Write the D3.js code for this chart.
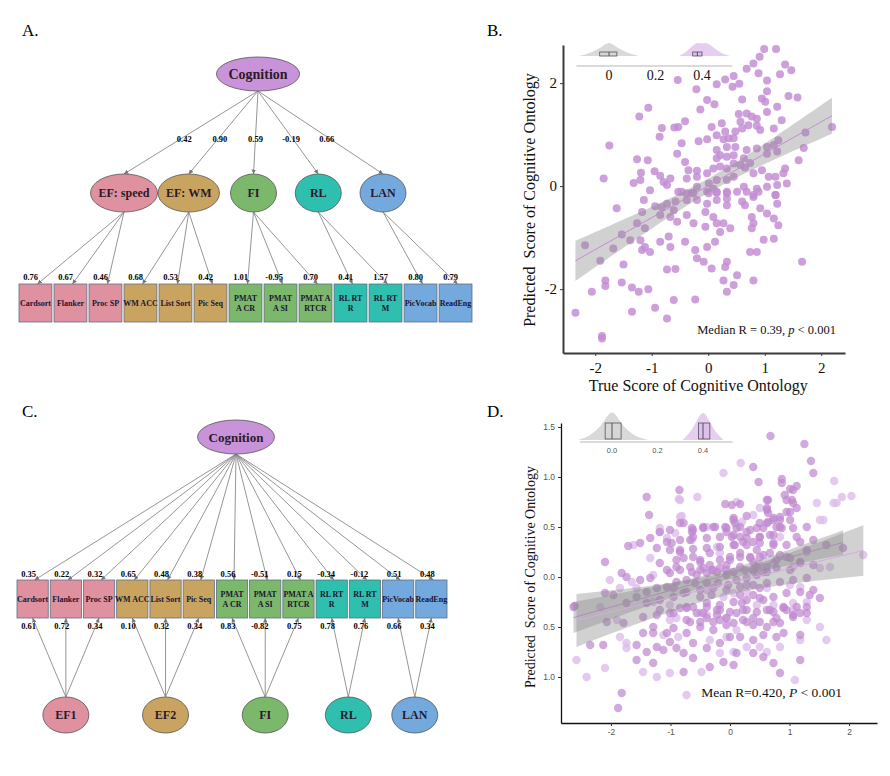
<!DOCTYPE html>
<html>
<head>
<meta charset="utf-8">
<script src="https://cdn.jsdelivr.net/npm/d3@7"></script>
<style>
body { margin: 0; background: #fff; }
svg { display: block; }
</style>
</head>
<body>
<svg id="fig" width="890" height="776"></svg>
<script>
// ---------- SEM diagrams (A, C) ----------
const indicators = ["Cardsort","Flanker","Proc SP","WM ACC","List Sort","Pic Seq","PMAT A CR","PMAT A SI","PMAT A RTCR","RL RT R","RL RT M","PicVocab","ReadEng"];
const indicatorLines = [["Cardsort"],["Flanker"],["Proc SP"],["WM ACC"],["List Sort"],["Pic Seq"],["PMAT","A CR"],["PMAT","A SI"],["PMAT A","RTCR"],["RL RT","R"],["RL RT","M"],["PicVocab"],["ReadEng"]];
const indicatorGroup = [0,0,0,1,1,1,2,2,2,3,3,4,4];
const factorsA = ["EF: speed","EF: WM","FI","RL","LAN"];
const factorsC = ["EF1","EF2","FI","RL","LAN"];
const factorColors = ["#e0919f","#c9a461","#7cb86c","#2fbfae","#73a9dc"];
const cognitionColor = "#c993d9";
const loadCogA = ["0.42","0.90","0.59","-0.19","0.66"];
const loadIndA = ["0.76","0.67","0.46","0.68","0.53","0.42","1.01","-0.95","0.70","0.41","1.57","0.80","0.79"];
const loadCogC = ["0.35","0.22","0.32","0.65","0.48","0.38","0.56","-0.51","0.15","-0.34","-0.12","0.51","0.48"];
const loadIndC = ["0.61","0.72","0.34","0.10","0.32","0.34","0.83","-0.82","0.75","0.78","0.76","0.66","0.34"];

// ---------- panel B scatter ----------
const bTrue = [0.99,1.20,0.91,0.80,0.68,1.36,1.47,1.27,0.89,0.45,
 0.30,0.15,0.43,0.55,1.04,-0.54,-0.21,1.04,0.60,0.95,
 1.01,1.42,1.58,-0.02,0.11,-0.14,-1.06,-1.22,-0.41,-0.53,
 -0.60,-0.82,-0.86,0.06,0.24,0.54,0.68,0.77,0.86,0.57,
 0.71,0.86,1.04,1.22,1.30,1.16,0.30,0.15,0.27,0.36,
 0.45,0.48,0.60,0.92,-0.47,-0.17,-0.02,-1.75,-0.55,-0.41,
 0.15,0.33,0.48,0.21,0.15,0.33,0.45,0.63,0.68,0.86,
 1.04,1.16,1.24,1.04,1.22,1.72,2.19,1.69,1.60,-1.26,
 -1.07,-1.85,-1.32,-1.20,-1.19,-0.95,-0.85,-0.67,-0.79,-0.73,
 -0.35,-0.20,-0.38,-0.20,-0.02,0.09,0.21,0.33,0.45,0.57,
 0.65,0.74,0.80,0.95,1.07,1.19,1.36,1.33,1.22,1.39,
 0.45,0.33,0.15,0.01,-0.20,0.09,0.63,0.86,1.04,-0.53,
 -0.38,-0.26,-0.02,0.15,0.33,1.19,0.80,
 -1.03,-0.47,-0.29,0.01,0.15,0.33,0.51,0.68,0.89,1.19,
 -1.62,-1.14,-0.94,-0.82,-0.73,-0.58,-0.38,-0.20,-0.02,0.15,
 0.33,0.33,0.60,0.65,0.80,0.92,1.04,1.16,1.22,-1.17,
 -0.85,-0.67,-0.61,-0.55,-0.38,-0.26,-0.05,0.09,0.15,0.27,
 0.39,-0.05,0.21,0.77,0.80,0.77,1.24,1.16,0.98,-2.18,
 -1.53,-1.38,-1.68,-1.26,-1.12,-1.20,-1.12,-1.17,-1.03,-0.85,
 -0.70,-0.67,-0.41,-0.23,-0.20,-0.08,-0.02,0.12,0.33,0.30,
 0.06,0.51,0.27,0.45,0.33,0.80,0.74,0.86,1.66,-1.91,
 -1.50,-0.73,-0.58,-1.82,-1.82,-1.53,-1.35,-1.23,-1.06,-2.06,
 -2.35,-1.35,-0.94,-0.73,-0.61,-0.23,-1.88,-1.88];
const bPred = [2.66,2.66,2.51,2.38,2.28,2.36,2.25,2.17,2.19,2.14,
 2.07,1.98,1.93,1.99,2.05,2.06,1.88,1.84,1.68,1.70,
 1.64,1.75,1.72,1.67,1.59,1.49,1.52,1.35,1.26,1.15,
 1.14,1.13,0.96,1.15,1.22,1.40,1.41,1.35,1.31,1.25,
 1.18,1.17,1.44,1.54,1.28,1.12,1.06,0.99,0.91,0.93,
 0.93,1.06,1.12,1.09,0.83,0.87,0.91,0.79,0.63,0.47,
 0.70,0.76,0.76,0.60,0.54,0.57,0.60,0.54,0.70,0.73,
 0.76,0.80,0.89,0.63,0.67,1.04,1.15,0.74,0.50,0.52,
 0.50,0.15,0.06,0.12,0.26,0.29,0.20,0.15,0.08,0.02,
 0.31,0.30,0.15,0.18,0.25,0.34,0.38,0.34,0.44,0.41,
 0.36,0.45,0.25,0.31,0.18,0.18,0.34,0.25,0.02,0.05,
 0.18,0.12,0.12,0.05,-0.01,-0.05,-0.01,-0.05,-0.01,-0.11,
 -0.14,-0.13,-0.11,-0.13,-0.14,-0.17,-0.17,
 -0.08,-0.11,-0.14,-0.14,-0.11,-0.11,-0.11,-0.11,-0.11,-0.17,
 -0.43,-0.27,-0.39,-0.41,-0.34,-0.30,-0.27,-0.27,-0.34,-0.27,
 -0.24,-0.37,-0.30,-0.37,-0.21,-0.43,-0.53,-0.63,-0.34,-0.50,
 -0.56,-0.60,-0.47,-0.69,-0.56,-0.72,-0.50,-0.60,-0.72,-0.72,
 -0.82,-0.79,-0.89,-0.60,-0.72,-0.82,-0.76,-1.02,-1.04,-1.15,
 -0.94,-1.05,-1.21,-0.72,-0.82,-1.05,-1.18,-1.24,-1.28,-1.08,
 -0.98,-1.18,-1.08,-1.24,-1.40,-1.47,-1.18,-1.08,-1.47,-1.57,
 -1.60,-1.73,-1.83,-1.92,-2.05,-1.83,-1.28,-1.28,-1.47,-1.45,
 -1.52,-1.62,-1.61,-1.83,-1.94,-1.87,-1.97,-2.05,-2.00,-2.05,
 -2.46,-2.44,-2.36,-2.57,-2.21,-2.20,-2.91,-2.96];
const bXTicks = [-2,-1,0,1,2];
const bYTicks = [-2,0,2];

// ---------- panel D scatter (two series) ----------
const dTrueDark = [0.68,1.25,1.36,1.40,0.39,0.48,0.87,0.87,1.12,1.01,
 0.92,1.04,1.06,0.62,-1.40,-0.85,-1.36,-0.08,0.03,0.17,
 0.62,0.64,1.12,1.01,0.84,1.01,0.73,0.28,0.06,0.08,
 -0.08,-0.84,-0.64,-0.45,-0.28,0.50,0.64,0.78,0.45,
 -1.18,-1.01,-0.62,-0.45,-0.25,-0.06,0.17,0.34,0.56,0.84,
 1.06,0.73,0.50,0.28,0.06,-0.17,-0.39,-0.62,-0.84,-1.06,
 -1.34,-1.71,-1.51,-1.23,-1.01,-0.84,-0.62,-0.39,-0.17,0.06,
 0.28,0.50,0.73,0.95,1.18,1.40,1.62,1.90,-2.10,-1.82,
 -1.74,-1.51,-1.34,-1.18,-1.06,-0.90,-0.78,-0.62,-0.50,-0.34,
 -0.17,0.00,0.17,0.34,0.50,0.67,0.84,1.01,1.18,1.40,
 0.78,0.62,0.45,0.28,0.11,-0.06,-0.22,-0.39,-0.56,-0.73,
 -0.90,-1.06,-1.23,-1.40,-1.57,-2.10,-1.96,-2.61,-1.74,-1.40,
 -1.18,-0.95,-0.73,-0.50,-0.28,-0.06,0.17,0.39,0.62,0.84,
 1.06,1.29,1.40,1.18,0.95,0.73,0.50,0.28,0.06,-0.17,
 -0.39,-0.62,-0.84,-1.01,-1.23,-1.46,-0.45,-0.22,0.00,0.22,
 0.45,0.67,0.90,1.12,1.34,1.51,1.29,1.06,0.22,0.50,
 0.78,-0.73,-0.50,-0.28,
 -2.63,-2.35,-2.13,-1.57,-1.40,-1.23,-1.01,-0.90,-0.78,-0.62,
 -0.39,-0.17,0.00,0.17,0.39,0.56,0.78,0.90,1.18,-0.73,
 -1.06,-1.29,-1.46,-2.07,-1.79,-1.29,-0.95,-0.50,-0.28,-0.06,
 0.39,0.62,0.84,1.06,1.29,-1.57,-1.29,-0.78,-0.34,-0.11,
 0.11,0.39,0.56,0.73,0.84,1.18,0.06,-1.82,-1.88,-1.12,
 -0.62,-0.95,-1.18,-0.73,-0.39,-0.17,0.11,0.28,0.62,0.90,
 -0.06,0.39,-0.39,-0.67,
 -0.06,0.06,0.11,0.03,0.17,0.28,0.22,0.08,0.39,0.50,
 0.45,0.62,0.73,0.84,0.95,0.87,0.67,0.73,0.56,0.34,
 0.17,0.00,-0.17,-0.34,-0.50,-0.50,-0.67,-0.84,-1.01,-0.28,
 -0.06,0.17,0.39,0.62,0.78,0.95,1.01,1.18,1.29,1.12,
 1.29,0.95,1.06,0.62,0.64,-0.64,-0.78,-0.98,-0.84,-0.90,
 -0.67,
 -0.64,-0.45,-0.31,-0.06,0.06,0.25,0.39,0.45,0.56,0.28,
 0.50,-0.03,-0.20,-0.39,-0.59,-0.78,-0.95,-0.50,-0.31,0.17,
 0.39,0.56,0.73,0.95,1.18,0.20,-0.22,-0.56,-0.73,-0.17,
 0.06,0.28,0.73];
const dPredDark = [1.41,1.33,1.16,1.04,1.10,0.95,0.98,0.94,0.91,0.88,
 0.82,0.77,0.74,0.77,0.80,0.87,0.62,0.73,0.72,0.73,
 0.69,0.64,0.69,0.65,0.60,0.57,0.59,0.61,0.59,0.54,
 0.50,0.54,0.49,0.50,0.50,0.54,0.55,0.50,0.49,
 0.45,0.47,0.47,0.49,0.50,0.49,0.50,0.47,0.49,0.50,
 0.49,0.42,0.40,0.39,0.42,0.40,0.39,0.40,0.37,0.35,
 0.39,0.31,0.34,0.29,0.27,0.25,0.28,0.29,0.30,0.32,
 0.32,0.34,0.34,0.32,0.35,0.37,0.32,0.29,0.15,0.04,
 0.00,-0.03,-0.01,0.14,0.07,0.10,0.19,0.20,0.15,0.12,
 0.09,0.17,0.20,0.19,0.20,0.24,0.22,0.19,0.15,0.12,
 0.09,0.05,0.02,-0.01,-0.03,0.02,0.05,0.04,0.02,-0.03,
 -0.05,-0.10,-0.11,-0.15,-0.20,-0.16,-0.18,-0.29,-0.26,-0.26,
 -0.23,-0.20,-0.15,-0.13,-0.11,-0.13,-0.10,-0.08,-0.06,-0.05,
 -0.03,-0.01,-0.13,-0.15,-0.16,-0.20,-0.21,-0.23,-0.25,-0.28,
 -0.26,-0.30,-0.31,-0.36,-0.38,-0.40,-0.36,-0.38,-0.35,-0.33,
 -0.35,-0.33,-0.31,-0.30,-0.18,-0.21,-0.30,-0.38,-0.43,-0.45,
 -0.41,-0.43,-0.45,-0.45,
 -0.30,-0.68,-0.68,-0.68,-0.75,-0.70,-0.65,-0.71,-0.76,-0.81,
 -0.71,-0.66,-0.60,-0.60,-0.63,-0.58,-0.60,-0.56,-0.58,-0.56,
 -0.56,-0.56,-0.56,-0.45,-0.46,-0.50,-0.51,-0.50,-0.53,-0.48,
 -0.48,-0.50,-0.46,-0.40,-0.36,-0.83,-0.86,-0.95,-0.90,-0.85,
 -0.76,-0.76,-0.80,-0.86,-0.96,-0.83,-0.88,-1.16,-1.31,-0.73,
 -0.66,-0.36,-0.33,-0.30,-0.30,-0.33,-0.36,-0.33,-0.33,-0.30,
 -0.41,-0.41,-0.41,-0.45,
 0.45,0.57,0.49,0.40,0.40,0.45,0.35,0.32,0.35,0.40,
 0.27,0.54,0.57,0.57,0.65,0.49,0.42,0.32,0.22,0.20,
 0.24,0.20,0.17,0.24,0.17,0.07,0.10,0.07,0.04,0.07,
 0.07,0.10,0.07,0.10,0.17,0.20,0.07,0.14,0.27,0.40,
 0.50,0.77,0.87,0.67,0.77,0.45,0.54,0.34,0.27,0.17,
 0.37,
 0.05,0.09,0.07,0.12,0.05,0.07,0.15,0.10,0.05,-0.08,
 -0.11,-0.08,-0.06,-0.06,-0.06,-0.16,-0.11,-0.20,-0.18,-0.18,
 -0.18,-0.23,-0.35,-0.33,-0.36,-0.26,-0.33,-0.36,-0.31,-0.43,
 -0.46,-0.45,-0.45];
const dTrueLight = [0.18,-0.11,1.75,-0.86,-0.55,0.11,0.50,1.46,1.79,1.88,
 2.04,-0.81,1.57,0.39,0.20,-1.18,
 -1.06,-0.92,-0.64,-2.02,-1.65,-1.29,-1.85,-1.57,0.50,0.73,
 1.06,1.51,1.68,2.24,1.29,-0.17,0.39,0.62,1.01,1.18,
 -0.39,0.06,0.28,-1.29,-1.01,1.06,1.29,0.45,-0.11,0.73,
 -0.06,-0.39,-0.90,
 -2.41,-2.10,-1.74,-1.46,-1.23,-1.01,-0.48,-0.17,0.06,0.62,
 0.50,0.28,-0.06,-0.34,-0.87,-1.12,-1.85,-1.74,-0.73,1.09,
 1.62,1.18,1.29,0.11,-1.01,-0.50,1.06,1.51,0.84,-2.18,
 -1.90,-2.58,
 -0.84,1.74,-1.18,-1.62,-1.34,-0.39,-0.84,1.51,-0.22,0.84];
const dPredLight = [1.14,1.04,0.96,0.78,0.80,0.75,0.69,0.74,0.74,0.80,
 0.81,0.61,0.57,0.62,0.55,0.49,
 0.39,0.44,0.37,-0.03,-0.05,0.02,-0.11,-0.11,0.12,0.14,
 0.10,0.09,0.10,0.22,0.25,0.24,0.05,-0.11,-0.08,-0.10,
 -0.13,-0.16,-0.15,-0.25,-0.28,-0.26,-0.25,-0.28,-0.20,-0.28,
 -0.41,-0.38,-0.41,
 -1.00,-0.91,-0.71,-0.95,-1.00,-0.96,-0.95,-0.76,-0.75,-0.75,
 -0.70,-0.70,-0.60,-0.63,-0.60,-0.58,-0.60,-0.66,-1.18,-1.03,
 -0.63,-0.63,-0.43,-0.53,-0.43,-0.36,-0.33,-0.50,-0.70,-0.30,
 -0.43,-0.83,
 0.77,0.74,0.45,0.32,0.19,0.50,0.60,0.57,0.30,0.40];
const dXTicks = [-2,-1,0,1,2];
const dYTicks = [1.5,1.0,0.5,0.0,-0.5,-1.0];
const dYTickLabels = ["1.5","1.0","0.5","0.0","0.5","1.0"];

// ---------- inset: null vs model distributions ----------
const insetTicks = [0,0.2,0.4];
const bInsetTickLabels = ["0","0.2","0.4"];
const dInsetTickLabels = ["0.0","0.2","0.4"];
const bNullDensX = [-0.13,-0.09,-0.05,-0.02,0,0.02,0.05,0.09,0.13];
const bNullDensY = [0,0.15,0.45,0.8,1,0.8,0.45,0.15,0];
const bModelDensX = [0.30,0.33,0.36,0.38,0.40,0.42,0.45,0.48,0.52];
const bModelDensY = [0,0.25,0.75,1,0.85,1,0.6,0.2,0];
const bNullBox = [-0.04,0.0,0.034];
const bModelBox = [0.36,0.38,0.40];
const dNullDensX = [-0.15,-0.1,-0.05,-0.02,0,0.02,0.05,0.1,0.16];
const dNullDensY = [0,0.12,0.45,0.85,1,0.85,0.45,0.12,0];
const dModelDensX = [0.31,0.35,0.38,0.40,0.42,0.45,0.49];
const dModelDensY = [0,0.3,0.8,1,0.8,0.3,0];
const dNullBox = [-0.03,0.0,0.04];
const dModelBox = [0.38,0.40,0.43];

const svg = d3.select("#fig");
const serif = "'Times New Roman','Liberation Serif',serif";
const sans = "Arial,'Liberation Sans',sans-serif";

svg.append("defs").append("marker")
  .attr("id","arr").attr("viewBox","0 0 6 6").attr("refX",6).attr("refY",3)
  .attr("markerWidth",5).attr("markerHeight",5).attr("orient","auto")
  .append("path").attr("d","M0,0L6,3L0,6z").attr("fill","#777");

function panelLetter(t, x, y) {
  svg.append("text").attr("x",x).attr("y",y).text(t)
    .attr("font-family",serif).attr("font-size",17);
}
panelLetter("A.",22,36); panelLetter("B.",487,36);
panelLetter("C.",22,417); panelLetter("D.",487,417);

function ellipse(g, cx, cy, rx, ry, fill, label, fs) {
  g.append("ellipse").attr("cx",cx).attr("cy",cy).attr("rx",rx).attr("ry",ry)
    .attr("fill",fill).attr("stroke","#555").attr("stroke-width",0.8);
  g.append("text").attr("x",cx).attr("y",cy+fs*0.35).attr("text-anchor","middle")
    .attr("font-family",serif).attr("font-weight","bold").attr("font-size",fs)
    .attr("fill","#2a1a2a").text(label);
}

function labelWidth(label, fs) {
  const t = svg.append("text").attr("font-family",serif).attr("font-weight","bold")
    .attr("font-size",fs).text(label);
  const w = t.node().getComputedTextLength();
  t.remove();
  return w;
}

function edge(g, x1, y1, x2, y2) {
  g.append("line").attr("x1",x1).attr("y1",y1).attr("x2",x2).attr("y2",y2)
    .attr("stroke","#8a8a8a").attr("stroke-width",0.9).attr("marker-end","url(#arr)");
}

function loadingText(g, x, y, t, anchor) {
  g.append("text").attr("x",x).attr("y",y).attr("text-anchor",anchor || "end")
    .attr("font-family",serif).attr("font-weight","bold").attr("font-size",8.5)
    .attr("fill","#000").text(t);
}

function drawBoxes(g, xb, top, bottom) {
  const bw = xb.bandwidth();
  indicators.forEach((name, i) => {
    g.append("rect").attr("x",xb(name)).attr("y",top).attr("width",bw).attr("height",bottom-top)
      .attr("fill",factorColors[indicatorGroup[i]]).attr("stroke","#5f6f80").attr("stroke-width",0.8);
    const lines = indicatorLines[i];
    const mid = (top+bottom)/2;
    lines.forEach((ln, k) => {
      g.append("text").attr("x",xb(name)+bw/2)
        .attr("y",mid + 3 + (k - (lines.length-1)/2)*10)
        .attr("text-anchor","middle").attr("font-family",serif).attr("font-weight","bold")
        .attr("font-size",8).attr("fill","#1b1530").text(ln);
    });
  });
}

// ---------- Panel A ----------
{
  const g = svg.append("g");
  const xb = d3.scaleBand().domain(indicators).range([19,472]).paddingInner(0.06);
  const xl = d3.scalePoint().domain(factorsA).range([124,383]);
  const cog = {x:258, y:74, ry:17};
  const latY = 193, latRy = 19, boxTop = 284, boxBot = 322;
  const bw = xb.bandwidth();

  factorsA.forEach((f, j) => {
    edge(g, cog.x, cog.y+cog.ry, xl(f), latY-latRy);
    loadingText(g, cog.x + (xl(f)-cog.x)*0.55, 142, loadCogA[j], "middle");
  });
  indicators.forEach((name, i) => {
    const f = factorsA[indicatorGroup[i]];
    edge(g, xl(f), latY+latRy, xb(name)+bw/2+2, boxTop);
    loadingText(g, xb(name)+19, boxTop-4, loadIndA[i]);
  });
  drawBoxes(g, xb, boxTop, boxBot);
  ellipse(g, cog.x, cog.y, labelWidth("Cognition",14)/2+12, cog.ry, cognitionColor, "Cognition", 14);
  factorsA.forEach((f, j) => {
    const rx = Math.max(23, labelWidth(f,12)/2+8);
    ellipse(g, xl(f), latY, rx, latRy, factorColors[j], f, 12);
  });
}

// ---------- Panel C ----------
{
  const g = svg.append("g");
  const xb = d3.scaleBand().domain(indicators).range([17,447]).paddingInner(0.06);
  const bw = xb.bandwidth();
  const cog = {x:236, y:437, ry:17};
  const boxTop = 580, boxBot = 618, latY = 715, latRy = 18;
  // bottom factor centres: mean of their indicator box centres
  const latX = factorsC.map((f, j) => d3.mean(indicators.filter((n, i) => indicatorGroup[i] === j), n => xb(n)+bw/2));

  indicators.forEach((name, i) => {
    edge(g, cog.x, cog.y+cog.ry, xb(name)+bw/2+2, boxTop);
    loadingText(g, xb(name)+19, boxTop-3, loadCogC[i]);
    const j = indicatorGroup[i];
    edge(g, latX[j], latY-latRy, xb(name)+bw/2, boxBot);
    loadingText(g, xb(name)+19, boxBot+11, loadIndC[i]);
  });
  drawBoxes(g, xb, boxTop, boxBot);
  ellipse(g, cog.x, cog.y, labelWidth("Cognition",13)/2+11, cog.ry, cognitionColor, "Cognition", 13);
  factorsC.forEach((f, j) => ellipse(g, latX[j], latY, 23, latRy, factorColors[j], f, 12));
}

// ---------- regression helpers ----------
function linFit(xs, ys) {
  const n = xs.length, mx = d3.mean(xs), my = d3.mean(ys);
  let sxx = 0, sxy = 0;
  xs.forEach((x, i) => { sxx += (x-mx)*(x-mx); sxy += (x-mx)*(ys[i]-my); });
  const b = sxy/sxx, a = my - b*mx;
  let sse = 0;
  xs.forEach((x, i) => { const r = ys[i] - (a + b*x); sse += r*r; });
  const s = Math.sqrt(sse/(n-2));
  const [x0, x1] = d3.extent(xs);
  const pts = d3.range(0, 41).map(k => {
    const x = x0 + (x1-x0)*k/40;
    const se = 1.97*s*Math.sqrt(1/n + (x-mx)*(x-mx)/sxx);
    const y = a + b*x;
    return {x, y, lo: y-se, hi: y+se};
  });
  return pts;
}

function drawFit(g, xs, ys, xS, yS, lineColor) {
  const pts = linFit(xs, ys);
  g.append("path").datum(pts)
    .attr("d", d3.area().x(d => xS(d.x)).y0(d => yS(d.lo)).y1(d => yS(d.hi)))
    .attr("fill","#8c8c8c").attr("fill-opacity",0.4);
  g.append("path").datum(pts)
    .attr("d", d3.line().x(d => xS(d.x)).y(d => yS(d.y)))
    .attr("fill","none").attr("stroke",lineColor).attr("stroke-width",1);
}

function drawInset(g, xI, base, axisY, nullX, nullY, modX, modY, peak, nullBox, modBox, boxTop, boxBot, labels, labelY, fontFam, fs, fcol) {
  const h = d3.scaleLinear().domain([0,1]).range([0,peak]);
  const area = d3.area().x(d => xI(d[0])).y0(base).y1(d => base - h(d[1])).curve(d3.curveBasis);
  g.append("path").attr("d", area(d3.zip(nullX, nullY))).attr("fill","#cfcfcf").attr("fill-opacity",0.8);
  g.append("path").attr("d", area(d3.zip(modX, modY))).attr("fill","#e2c6ee").attr("fill-opacity",0.85);
  [[nullBox,"#d6d6d6","#555"],[modBox,"#dcc2e8","#5a4a66"]].forEach(([bx, fill, st]) => {
    g.append("rect").attr("x",xI(bx[0])).attr("y",boxTop).attr("width",xI(bx[2])-xI(bx[0]))
      .attr("height",boxBot-boxTop).attr("fill",fill).attr("stroke",st).attr("stroke-width",0.8);
    g.append("line").attr("x1",xI(bx[1])).attr("x2",xI(bx[1])).attr("y1",boxTop).attr("y2",boxBot)
      .attr("stroke",st).attr("stroke-width",1);
  });
  g.append("line").attr("x1",xI(-0.14)).attr("x2",xI(0.53)).attr("y1",axisY).attr("y2",axisY)
    .attr("stroke","#b5b5b5").attr("stroke-width",1);
  g.selectAll(null).data(insetTicks).join("text")
    .attr("x", d => xI(d)).attr("y", labelY).attr("text-anchor","middle")
    .attr("font-family",fontFam).attr("font-size",fs).attr("fill",fcol)
    .text((d, i) => labels[i]);
}

// ---------- Panel B ----------
{
  const g = svg.append("g");
  const xS = d3.scaleLinear().domain([-2.57,2.42]).range([563,845]);
  const yS = d3.scaleLinear().domain([-3.24,2.74]).range([353,45]);

  g.selectAll("circle").data(d3.zip(bTrue,bPred)).join("circle")
    .attr("cx", d => xS(d[0])).attr("cy", d => yS(d[1])).attr("r",4)
    .attr("fill","#c28bd3").attr("fill-opacity",0.82);
  drawFit(g, bTrue, bPred, xS, yS, "#c88ad8");

  const ax = g.append("g").attr("transform","translate(563,0)")
    .call(d3.axisLeft(yS).tickValues(bYTicks).tickSize(3).tickSizeOuter(0).tickFormat(d => d));
  const bx = g.append("g").attr("transform","translate(0,353)")
    .call(d3.axisBottom(xS).tickValues(bXTicks).tickSize(3).tickSizeOuter(0).tickFormat(d => d));
  [ax,bx].forEach(a => {
    a.select(".domain").attr("stroke","#3a3a3a").attr("stroke-width",2);
    a.selectAll(".tick line").attr("stroke","#3a3a3a");
    a.selectAll("text").attr("font-family",serif).attr("font-size",15).attr("fill","#111");
  });
  bx.selectAll("text").attr("dy","0.95em");

  g.append("text").attr("transform","translate(535,200) rotate(-90)").attr("text-anchor","middle")
    .style("white-space","pre").attr("font-family",serif).attr("font-size",16).attr("fill","#111")
    .text("Predicted  Score of Cognitive Ontology");
  g.append("text").attr("x",xS(0)-10).attr("y",391).attr("text-anchor","middle")
    .attr("font-family",serif).attr("font-size",16).attr("fill","#111")
    .text("True Score of Cognitive Ontology");
  const ann = g.append("text").attr("x",836).attr("y",334).attr("text-anchor","end")
    .attr("font-family",serif).attr("font-size",12.5).attr("fill","#111");
  ann.append("tspan").text("Median R = 0.39, ");
  ann.append("tspan").attr("font-style","italic").text("p");
  ann.append("tspan").text(" < 0.001");

  const xI = d3.scaleLinear().domain([0,0.4]).range([609,702]);
  drawInset(g, xI, 56, 66, bNullDensX, bNullDensY, bModelDensX, bModelDensY, 14,
    bNullBox, bModelBox, 52, 56, bInsetTickLabels, 80, serif, 14, "#111");
}

// ---------- Panel D ----------
{
  const g = svg.append("g");
  const xS = d3.scaleLinear().domain([-2.84,2.47]).range([561,877]);
  const yS = d3.scaleLinear().domain([-1.46,1.54]).range([723,423]);

  g.selectAll("circle.lt").data(d3.zip(dTrueLight,dPredLight)).join("circle").attr("class","lt")
    .attr("cx", d => xS(d[0])).attr("cy", d => yS(d[1])).attr("r",4.2)
    .attr("fill","#dcbdea").attr("fill-opacity",0.8);
  g.selectAll("circle.dk").data(d3.zip(dTrueDark,dPredDark)).join("circle").attr("class","dk")
    .attr("cx", d => xS(d[0])).attr("cy", d => yS(d[1])).attr("r",4.2)
    .attr("fill","#bf88d0").attr("fill-opacity",0.72);
  drawFit(g, dTrueDark, dPredDark, xS, yS, "#c68ad6");
  drawFit(g, dTrueLight, dPredLight, xS, yS, "#d7a9e6");

  const ax = g.append("g").attr("transform","translate(561,0)")
    .call(d3.axisLeft(yS).tickValues(dYTicks).tickSize(3).tickSizeOuter(0).tickFormat((d, i) => dYTickLabels[i]));
  const bx = g.append("g").attr("transform","translate(0,723)")
    .call(d3.axisBottom(xS).tickValues(dXTicks).tickSize(3).tickSizeOuter(0).tickFormat(d => d));
  [ax,bx].forEach(a => {
    a.select(".domain").attr("stroke","#111").attr("stroke-width",1.3);
    a.selectAll(".tick line").attr("stroke","#333");
    a.selectAll("text").attr("font-family",sans).attr("font-size",8.5).attr("fill","#555");
  });

  g.append("text").attr("transform","translate(535,577) rotate(-90)").attr("text-anchor","middle")
    .style("white-space","pre").attr("font-family",serif).attr("font-size",14).attr("fill","#111")
    .text("Predicted  Score of Cognitive Ontology");
  const ann = g.append("text").attr("x",842).attr("y",697).attr("text-anchor","end")
    .attr("font-family",serif).attr("font-size",13.5).attr("fill","#111");
  ann.append("tspan").text("Mean R=0.420, ");
  ann.append("tspan").attr("font-style","italic").text("P");
  ann.append("tspan").text(" < 0.001");

  const xI = d3.scaleLinear().domain([0,0.4]).range([612,703]);
  drawInset(g, xI, 440, 442, dNullDensX, dNullDensY, dModelDensX, dModelDensY, 29,
    dNullBox, dModelBox, 423, 439, dInsetTickLabels, 453, sans, 7.5, "#555");
}
</script>
</body>
</html>
